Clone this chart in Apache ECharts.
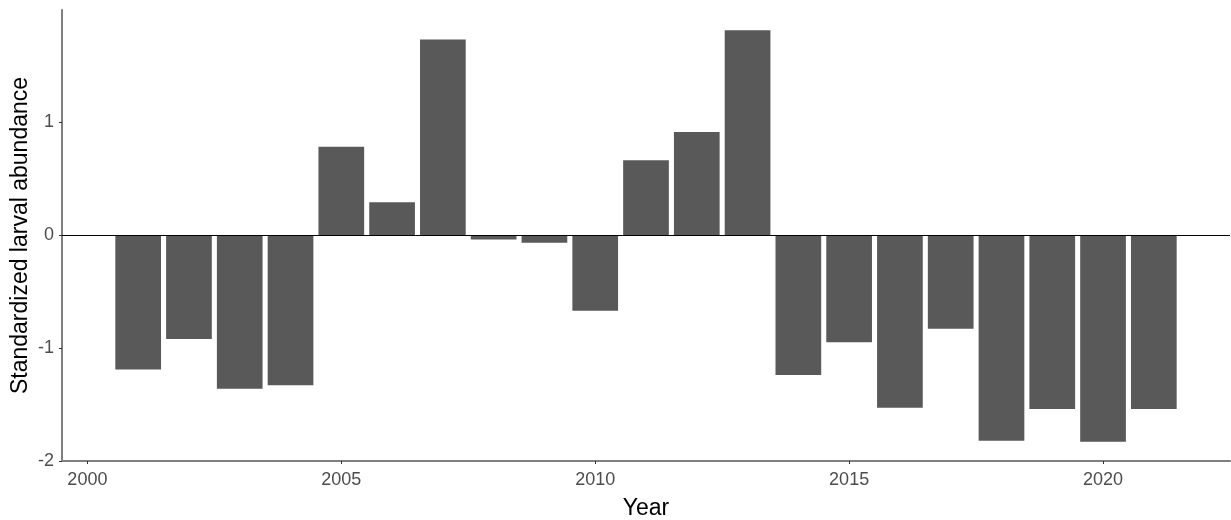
<!DOCTYPE html>
<html>
<head>
<meta charset="utf-8">
<script src="https://cdn.jsdelivr.net/npm/echarts@6/dist/echarts.min.js"></script>
<style>
  html, body { margin: 0; padding: 0; background: #ffffff; }
  #chart { width: 1231px; height: 520px; }
</style>
</head>
<body>
<div id="chart"></div>
<script>
// Standardized larval abundance by year
const years = [2001, 2002, 2003, 2004, 2005, 2006, 2007, 2008, 2009, 2010, 2011,
               2012, 2013, 2014, 2015, 2016, 2017, 2018, 2019, 2020, 2021];
const abundance = [-1.19, -0.92, -1.36, -1.33, 0.78, 0.29, 1.73, -0.04, -0.07, -0.67, 0.66,
                   0.91, 1.81, -1.24, -0.95, -1.53, -0.83, -1.82, -1.54, -1.83, -1.54];
const xTicks = [2000, 2005, 2010, 2015, 2020];
const yTicks = [-2, -1, 0, 1];

const X_MIN = 1999.5, X_MAX = 2022.5;
const GRID = { left: 62, right: 1, top: 10, bottom: 59 };
const plotWidth = 1231 - GRID.left - GRID.right;
const barWidth = 0.9 * plotWidth / (X_MAX - X_MIN);

const FONT = '"Liberation Sans", Arial, sans-serif';
const AXIS_GREY = '#7f7f7f';

const chart = echarts.init(document.getElementById('chart'), null, { renderer: 'canvas' });

chart.setOption({
  animation: false,
  backgroundColor: '#ffffff',
  grid: Object.assign({ outerBoundsMode: 'none', containLabel: false }, GRID),
  xAxis: {
    type: 'value',
    min: X_MIN,
    max: X_MAX,
    name: 'Year',
    nameLocation: 'middle',
    nameGap: 36,
    nameMoveOverlap: false,
    nameTextStyle: { fontFamily: FONT, fontSize: 23, color: '#000000' },
    axisLine: { show: true, onZero: false, lineStyle: { color: AXIS_GREY, width: 2 } },
    axisTick: { show: true, length: 3, lineStyle: { color: '#333333', width: 1 }, customValues: xTicks },
    axisLabel: {
      fontFamily: FONT, fontSize: 18, color: '#4d4d4d', margin: 10,
      customValues: xTicks,
      formatter: v => String(v)
    },
    splitLine: { show: false }
  },
  yAxis: {
    type: 'value',
    min: -2,
    max: 1.99,
    interval: 1,
    name: 'Standardized larval abundance',
    nameLocation: 'middle',
    nameGap: 30,
    nameMoveOverlap: false,
    nameTextStyle: { fontFamily: FONT, fontSize: 23, color: '#000000' },
    axisLine: { show: true, onZero: false, lineStyle: { color: AXIS_GREY, width: 2 } },
    axisTick: { show: true, length: 3, lineStyle: { color: '#333333', width: 1 }, customValues: yTicks },
    axisLabel: { fontFamily: FONT, fontSize: 18, color: '#4d4d4d', margin: 8, customValues: yTicks },
    splitLine: { show: false }
  },
  series: [{
    type: 'bar',
    data: years.map((y, i) => [y, abundance[i]]),
    barWidth: barWidth,
    itemStyle: { color: '#595959' },
    markLine: {
      silent: true,
      symbol: ['none', 'none'],
      label: { show: false },
      lineStyle: { color: '#000000', width: 1, type: 'solid' },
      data: [{ yAxis: 0 }]
    }
  }]
});
</script>
</body>
</html>
